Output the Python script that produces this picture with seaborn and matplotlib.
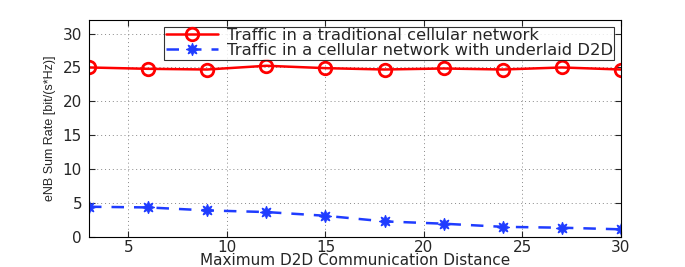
import numpy as np
import pandas as pd
import matplotlib
matplotlib.use("Agg")
import matplotlib.pyplot as plt
import seaborn as sns

distance = [3, 6, 9, 12, 15, 18, 21, 24, 27, 30]
traditional = [25.0, 24.8, 24.7, 25.25, 24.9, 24.7, 24.85, 24.7, 25.0, 24.7]
underlaid = [4.46, 4.36, 3.92, 3.68, 3.13, 2.3, 1.96, 1.5, 1.37, 1.13]
labels = ["Traffic in a traditional cellular network",
          "Traffic in a cellular network with underlaid D2D"]

sns.set_style("ticks")
plt.rcParams["font.family"] = ["DejaVu Sans"]

fig = plt.figure(figsize=(6.85, 2.67), dpi=100)
ax = fig.add_axes([89 / 685, 30 / 267, (621 - 89) / 685, (237 - 20) / 267])

sns.lineplot(x=distance, y=traditional, ax=ax, color="#ff0000", lw=1.8,
             marker="o", markersize=9, markerfacecolor="none",
             markeredgecolor="#ff0000", markeredgewidth=2, label=labels[0])
sns.lineplot(x=distance, y=underlaid, ax=ax, color="#1f3cff", lw=1.8,
             linestyle=(0, (5, 4)), marker=(8, 1, 0), markersize=9,
             markeredgecolor="#1f3cff", markerfacecolor="#1f3cff", label=labels[1])

ax.set_xlim(3, 30)
ax.set_ylim(0, 32)
ax.set_xticks([5, 10, 15, 20, 25, 30])
ax.set_yticks([0, 5, 10, 15, 20, 25, 30])
ax.grid(True, linestyle=(0, (1, 3)), color="#888888", lw=0.7)
ax.tick_params(direction="in", top=True, right=True, labelsize=11, length=4)
ax.tick_params(axis="x", pad=2)
ax.tick_params(axis="y", pad=5)
for s in ax.spines.values():
    s.set_color("black")
    s.set_linewidth(0.8)
ax.set_xlabel("Maximum D2D Communication Distance", fontsize=11, labelpad=-1)
ax.set_ylabel("eNB Sum Rate [bit/(s*Hz)]",
              family=["Liberation Sans Narrow", "Liberation Sans"],
              fontsize=9, labelpad=5)

leg = ax.legend(loc="upper right", fontsize=11.8, frameon=True, fancybox=False,
                edgecolor="black", borderpad=0.1, labelspacing=0.0,
                handlelength=3.2, handletextpad=0.5, borderaxespad=0.4)
leg.get_frame().set_linewidth(0.8)

fig.savefig("out.png", dpi=100)
